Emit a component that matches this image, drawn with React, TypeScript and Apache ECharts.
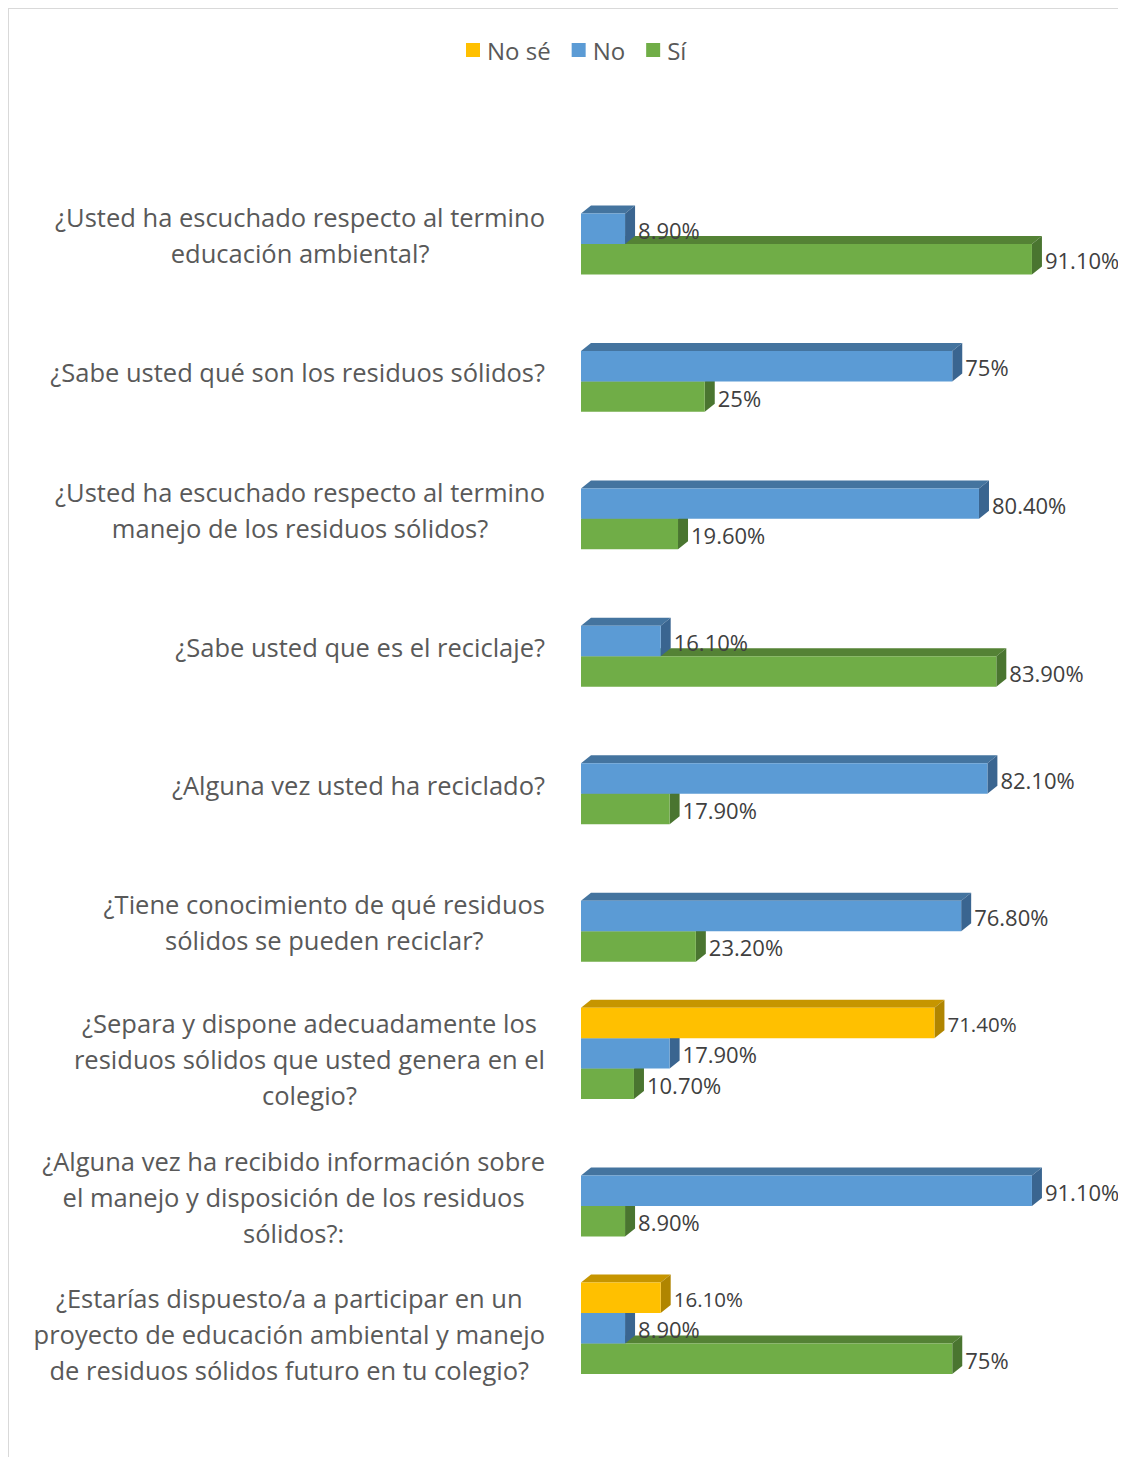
import React, { useEffect, useRef } from "react";
import * as echarts from "echarts";

const categories = [
  "¿Usted ha escuchado respecto al termino\neducación ambiental?",
  "¿Sabe usted qué son los residuos sólidos?",
  "¿Usted ha escuchado respecto al termino\nmanejo de los residuos sólidos?",
  "¿Sabe usted que es el reciclaje?",
  "¿Alguna vez usted ha reciclado?",
  "¿Tiene conocimiento de qué residuos\nsólidos se pueden reciclar?",
  "¿Separa y dispone adecuadamente los\nresiduos sólidos que usted genera en el\ncolegio?",
  "¿Alguna vez ha recibido información sobre\nel manejo y disposición de los residuos\nsólidos?:",
  "¿Estarías dispuesto/a a participar en un\nproyecto de educación ambiental y manejo\nde residuos sólidos futuro en tu colegio?",
];

const noSeValues: (number | null)[] = [null, null, null, null, null, null, 71.4, null, 16.1];
const noValues: (number | null)[] = [8.9, 75, 80.4, 16.1, 82.1, 76.8, 17.9, 91.1, 8.9];
const siValues: (number | null)[] = [91.1, 25, 19.6, 83.9, 17.9, 23.2, 10.7, 8.9, 75];

const seriesNames = ["No sé", "No", "Sí"];

const FONT = "'Open Sans', Lato, sans-serif";
const SLOT = 0.2217;
const DX = 10;
const DY = 8;

function fmt(v: number): string {
  return Number.isInteger(v) ? `${v}%` : `${v.toFixed(2)}%`;
}

function makeRender(slot: number, front: string, top: string, side: string, fontSize: number) {
  return (params: any, api: any) => {
    const val = api.value(0);
    const cat = api.value(1);
    const base = api.coord([0, cat]);
    const end = api.coord([val, cat]);
    const band = api.size([0, 1])[1];
    const h = band * SLOT;
    const x0 = base[0];
    const x1 = end[0];
    const yTop = base[1] + (slot - 1.5) * h;
    return {
      type: "group",
      children: [
        {
          type: "polygon",
          shape: { points: [[x0, yTop], [x0 + DX, yTop - DY], [x1 + DX, yTop - DY], [x1, yTop]] },
          style: { fill: top },
        },
        {
          type: "polygon",
          shape: { points: [[x1, yTop], [x1 + DX, yTop - DY], [x1 + DX, yTop + h - DY], [x1, yTop + h]] },
          style: { fill: side },
        },
        {
          type: "rect",
          shape: { x: x0, y: yTop, width: x1 - x0, height: h },
          style: { fill: front },
        },
        {
          type: "text",
          x: x1 + DX + 3,
          y: yTop + h / 2 + 1,
          z2: 50,
          style: {
            text: fmt(val),
            fill: "#404040",
            fontSize,
            fontFamily: FONT,
            textAlign: "left",
            verticalAlign: "middle",
          },
        },
      ],
    };
  };
}

function toData(arr: (number | null)[]) {
  const out: number[][] = [];
  arr.forEach((v, i) => {
    if (v !== null) out.push([v, i]);
  });
  return out;
}

export default function App() {
  const ref = useRef<HTMLDivElement>(null);
  useEffect(() => {
    if (!ref.current) return;
    document.documentElement.style.overflow = "hidden";
    const chart = echarts.init(ref.current, null, { renderer: "svg" });
    const option: any = {
      animation: false,
      backgroundColor: "#ffffff",
      legend: {
        data: seriesNames,
        top: 24,
        left: 452,
        icon: "rect",
        itemWidth: 14,
        itemHeight: 14,
        itemGap: 21,
        textStyle: { fontSize: 24, color: "#595959", fontFamily: FONT, padding: [0, 0, 0, 2] },
      },
      grid: { left: 572, right: 50, top: 151, bottom: 60, containLabel: false },
      xAxis: { type: "value", min: 0, max: 100, show: false },
      yAxis: {
        type: "category",
        inverse: true,
        data: categories,
        axisLine: { show: false },
        axisTick: { show: false },
        splitLine: { show: false },
        axisLabel: {
          margin: 36,
          padding: [12, 0, 0, 0],
          formatter: (v: string) => `{c|${v}}`,
          rich: {
            c: { align: "center", fontSize: 25.5, lineHeight: 36, color: "#595959", fontFamily: FONT },
          },
        },
      },
      series: [
        {
          name: "Sí",
          type: "custom",
          itemStyle: { color: "#70AD47" },
          renderItem: makeRender(2, "#70AD47", "#548235", "#4A7530", 22),
          encode: { x: 0, y: 1 },
          data: toData(siValues),
        },
        {
          name: "No",
          type: "custom",
          itemStyle: { color: "#5B9BD5" },
          renderItem: makeRender(1, "#5B9BD5", "#44749F", "#3A6590", 22),
          encode: { x: 0, y: 1 },
          data: toData(noValues),
        },
        {
          name: "No sé",
          type: "custom",
          itemStyle: { color: "#FFC000" },
          renderItem: makeRender(0, "#FFC000", "#C69500", "#B08500", 20.5),
          encode: { x: 0, y: 1 },
          data: toData(noSeValues),
        },
      ],
    };
    chart.setOption(option);
    return () => chart.dispose();
  }, []);
  return (
    <div
      ref={ref}
      style={{
        width: 1118,
        height: 1449,
        boxSizing: "border-box",
        borderTop: "1px solid #d9d9d9",
        borderLeft: "1px solid #d9d9d9",
      }}
    />
  );
}
